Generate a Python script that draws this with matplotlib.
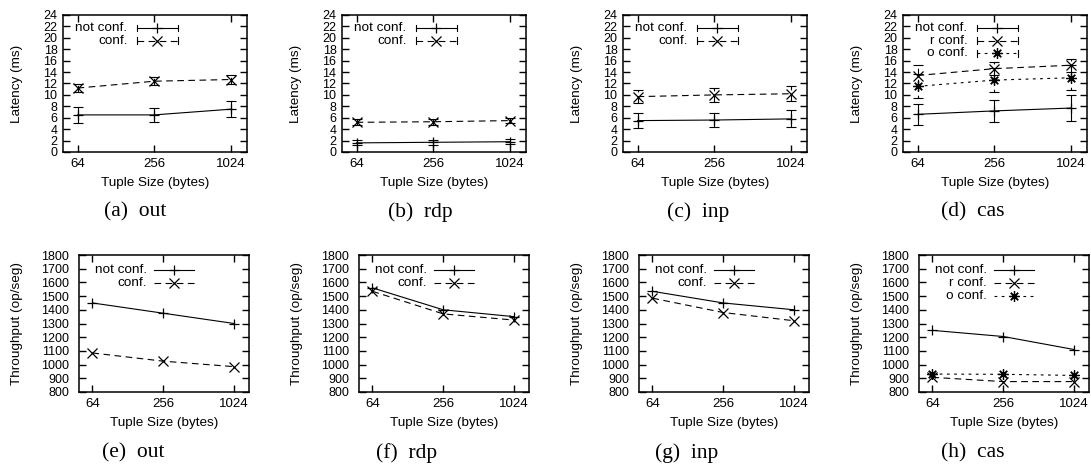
# latency / throughput of tuple space ops, not conf. vs conf.

import numpy as np
import matplotlib.pyplot as plt

sizes = ['64', '256', '1024']
ops = ['out', 'rdp', 'inp', 'cas']
letters_top = ['a', 'b', 'c', 'd']
letters_bot = ['e', 'f', 'g', 'h']

# latency (ms): mean and half-length of the error bar
lat_out_nc = [6.5, 6.5, 7.5]
lat_out_nc_err = [1.45, 1.2, 1.45]
lat_out_c = [11.2, 12.4, 12.7]
lat_out_c_err = [0.7, 0.7, 0.8]

lat_rdp_nc = [1.6, 1.7, 1.8]
lat_rdp_nc_err = [0.45, 0.4, 0.45]
lat_rdp_c = [5.2, 5.3, 5.5]
lat_rdp_c_err = [0.5, 0.5, 0.5]

lat_inp_nc = [5.5, 5.6, 5.8]
lat_inp_nc_err = [1.3, 1.3, 1.5]
lat_inp_c = [9.7, 10.0, 10.2]
lat_inp_c_err = [1.2, 1.2, 1.3]

lat_cas_nc = [6.6, 7.2, 7.7]
lat_cas_nc_err = [1.8, 1.9, 2.2]
lat_cas_r = [13.4, 14.6, 15.2]
lat_cas_r_err = [1.8, 1.1, 1.1]
lat_cas_o = [11.5, 12.6, 13.0]
lat_cas_o_err = [2.1, 2.1, 2.2]

# throughput (op/seg)
thr_out_nc = [1450, 1375, 1300]
thr_out_c = [1085, 1025, 985]
thr_rdp_nc = [1560, 1400, 1350]
thr_rdp_c = [1535, 1370, 1325]
thr_inp_nc = [1535, 1450, 1400]
thr_inp_c = [1485, 1380, 1320]
thr_cas_nc = [1250, 1205, 1110]
thr_cas_r = [907, 876, 876]
thr_cas_o = [931, 929, 921]

W, H = 1091, 468
fig = plt.figure(figsize=(W / 100, H / 100), dpi=100)

sans = 'Liberation Sans'
serif = 'Liberation Serif'
dashed = (0, (6, 4))
dotted = (0, (2.5, 4))
asterisk = (8, 2, 0)
x = np.arange(len(sizes))

# axes boxes in pixels: left, top, width, height
top_left = [63, 342, 623, 903]
bot_left = [79, 359, 639, 919]
top_cap_x = [135, 420, 698, 973]
bot_cap_x = [133, 407, 687, 973]


def make_axes(left, top, w, h):
    ax = fig.add_axes([left / W, 1 - (top + h) / H, w / W, h / H])
    for s in ax.spines.values():
        s.set_linewidth(1.1)
    ax.tick_params(direction='in', length=5, width=1, top=True, right=True,
                   labelsize=9)
    ax.tick_params(axis='x', labelsize=9.5, pad=4)
    ax.set_xticks(x)
    ax.set_xticklabels(sizes, family=sans)
    ax.set_xlim(-0.19, 2.21)
    ax.set_xlabel('Tuple Size (bytes)', family=sans, fontsize=9.7)
    ax.xaxis.set_label_coords(0.5, -31 / h)
    ax.xaxis.label.set_va('center')
    return ax


def key(ax, row, label, ls, marker, caps, xt, x0, x1, y0, dy):
    y = y0 - row * dy
    ax.text(xt, y, label, transform=ax.transAxes, ha='right', va='center',
            family=sans, fontsize=9.7)
    ax.plot([x0, x1], [y, y], transform=ax.transAxes, color='k', lw=0.8,
            ls=ls, clip_on=False)
    ax.plot([(x0 + x1) / 2], [y], transform=ax.transAxes, color='k',
            marker=marker, ms=7.5, mew=0.9, ls='none')
    if caps:
        for xc in (x0, x1):
            ax.plot([xc, xc], [y - 0.025, y + 0.025], transform=ax.transAxes,
                    color='k', lw=0.8)


def err_series(ax, vals, errs, ls, marker):
    eb = ax.errorbar(x, vals, yerr=errs, fmt='none', ecolor='k',
                     elinewidth=0.8, capsize=3.5, capthick=0.8)
    eb[2][0].set_linestyle(ls)
    ax.plot(x, vals, color='k', lw=0.8, ls=ls, marker=marker, ms=7.5, mew=0.9)


# ---- top row: latency ----
lat_data = [
    [(lat_out_nc, lat_out_nc_err), (lat_out_c, lat_out_c_err)],
    [(lat_rdp_nc, lat_rdp_nc_err), (lat_rdp_c, lat_rdp_c_err)],
    [(lat_inp_nc, lat_inp_nc_err), (lat_inp_c, lat_inp_c_err)],
    [(lat_cas_nc, lat_cas_nc_err), (lat_cas_r, lat_cas_r_err),
     (lat_cas_o, lat_cas_o_err)],
]

for i in range(4):
    ax = make_axes(top_left[i], 15, 184, 137)
    series = lat_data[i]
    if len(series) == 2:
        labels = ['not conf.', 'conf.']
        styles = [('-', '+'), (dashed, 'x')]
    else:
        labels = ['not conf.', 'r conf.', 'o conf.']
        styles = [('-', '+'), (dashed, 'x'), (dotted, asterisk)]
    for (vals, errs), (ls, mk) in zip(series, styles):
        err_series(ax, vals, errs, ls, mk)
    for r, (lab, (ls, mk)) in enumerate(zip(labels, styles)):
        key(ax, r, lab, ls, mk, True, 0.35, 0.40, 0.625, 0.905, 0.093)
    ax.set_ylim(0, 24)
    ax.set_yticks(range(0, 25, 2))
    for t in ax.get_yticklabels():
        t.set_family(sans)
    ax.tick_params(axis='y', pad=4)
    ax.set_ylabel('Latency (ms)', family=sans, fontsize=9.7)
    ax.yaxis.set_label_coords(-46 / 184, 0.5)
    ax.yaxis.label.set_va('center')
    fig.text(top_cap_x[i] / W, 1 - 212 / H, '(%s)  %s' % (letters_top[i], ops[i]),
             family=serif, fontsize=15.5, ha='center', va='center')

# ---- bottom row: throughput ----
thr_data = [
    [thr_out_nc, thr_out_c],
    [thr_rdp_nc, thr_rdp_c],
    [thr_inp_nc, thr_inp_c],
    [thr_cas_nc, thr_cas_r, thr_cas_o],
]

for i in range(4):
    ax = make_axes(bot_left[i], 255, 170, 137)
    series = thr_data[i]
    if len(series) == 2:
        labels = ['not conf.', 'conf.']
        styles = [('-', '+'), (dashed, 'x')]
    else:
        labels = ['not conf.', 'r conf.', 'o conf.']
        styles = [('-', '+'), (dashed, 'x'), (dotted, asterisk)]
    for vals, (ls, mk) in zip(series, styles):
        ax.plot(x, vals, color='k', lw=0.8, ls=ls, marker=mk, ms=7.5, mew=0.9)
    for r, (lab, (ls, mk)) in enumerate(zip(labels, styles)):
        key(ax, r, lab, ls, mk, False, 0.40, 0.44, 0.675, 0.89, 0.095)
    ax.set_ylim(800, 1800)
    ax.set_yticks(range(800, 1801, 100))
    for t in ax.get_yticklabels():
        t.set_family(sans)
    ax.tick_params(axis='y', pad=7)
    ax.set_ylabel('Throughput (op/seg)', family=sans, fontsize=9.7)
    ax.yaxis.set_label_coords(-62 / 170, 0.5)
    ax.yaxis.label.set_va('center')
    fig.text(bot_cap_x[i] / W, 1 - 453 / H, '(%s)  %s' % (letters_bot[i], ops[i]),
             family=serif, fontsize=15.5, ha='center', va='center')

fig.savefig('out.png', dpi=100)
